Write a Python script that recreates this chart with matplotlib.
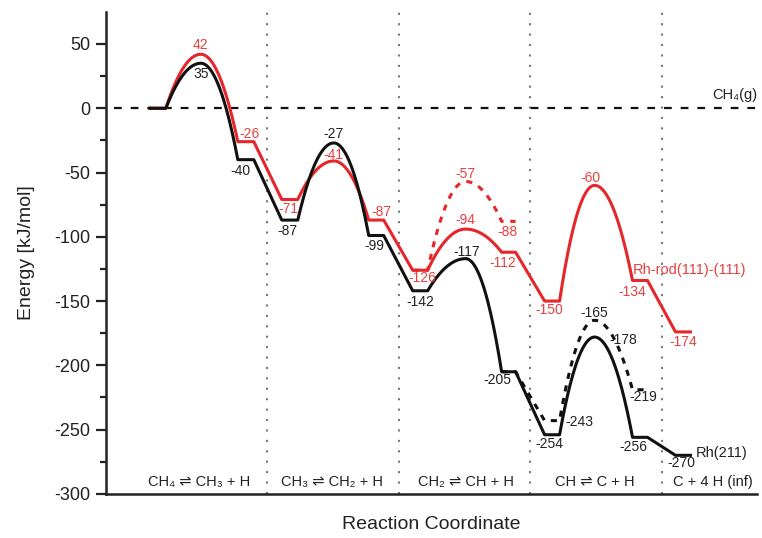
import numpy as np
import matplotlib.pyplot as plt

plt.rcParams['font.family'] = ['Liberation Sans', 'DejaVu Sans']
plt.rcParams['axes.unicode_minus'] = False

# positions along the reaction coordinate (arbitrary units)
plat_start = [149, 237, 281, 368, 412, 501, 544, 632, 675]
plat_end = [165, 253, 297, 383, 427, 515, 559, 647, 690]
ts_x = {0: 200, 2: 333, 4: 465, 6: 594}   # barrier after plateau i
dividers = [266, 398, 529, 661]

# energies in kJ/mol
rh211_levels = [0, -40, -87, -99, -142, -205, -254, -256, -270]
rh211_ts = {0: 35, 2: -27, 4: -117, 6: -178}
rod_levels = [0, -26, -71, -87, -126, -112, -150, -134, -174]
rod_ts = {0: 42, 2: -41, 4: -94, 6: -60}

# alternative (dashed) paths
rod_alt_levels = [-126, -88]
rod_alt_ts = {4: -57}
rh211_alt_levels = [-205, -243, -219]
rh211_alt_ts = {6: -165}

steps = ['CH₄ ⇌ CH₃ + H', 'CH₃ ⇌ CH₂ + H', 'CH₂ ⇌ CH + H',
         'CH ⇌ C + H', 'C + 4 H (inf)']
step_x = [198, 331, 465, 594, 712]

RED = '#e5262b'
RED_TXT = '#e8403f'
BLK = '#111111'


def profile(levels, ts, first=0):
    xs, ys = [], []
    for i, e in enumerate(levels):
        k = first + i
        xs += [plat_start[k], plat_end[k]]
        ys += [e, e]
        if i < len(levels) - 1 and k in ts:
            x0, x1, xp = plat_end[k], plat_start[k + 1], ts_x[k]
            ep, e1 = ts[k], levels[i + 1]
            t = np.linspace(0, 1, 40)
            xs += list(x0 + (xp - x0) * t)
            ys += list(ep - (ep - e) * (1 - t) ** 2)
            xs += list(xp + (x1 - xp) * t)
            ys += list(ep - (ep - e1) * t ** 2)
    return xs, ys


fig = plt.figure(figsize=(7.62, 5.38), dpi=100)
ax = fig.add_axes([0.139, 0.082, 0.855, 0.896])

for xd in dividers:
    ax.axvline(xd, color='#777777', ls=(0, (1, 4)), lw=1.5, zorder=1)
ax.axhline(0, color=BLK, ls=(0, (3.5, 4)), lw=1.6, zorder=1, xmin=0.012)

x, y = profile(rod_alt_levels, rod_alt_ts, first=4)
ax.plot(x, y, color=RED, lw=2.2, ls=(0, (2, 2.2)), zorder=2)
x, y = profile(rh211_alt_levels, rh211_alt_ts, first=5)
ax.plot(x, y, color=BLK, lw=2.2, ls=(0, (2, 2.2)), zorder=2)
x, y = profile(rod_levels, rod_ts)
ax.plot(x, y, color=RED, lw=2.2, zorder=3)
x, y = profile(rh211_levels, rh211_ts)
ax.plot(x, y, color=BLK, lw=2.2, zorder=3)

# value labels: (x, energy, dx, dy) offsets in pixels
def mid(k):
    return (plat_start[k] + plat_end[k]) / 2

black_labels = [
    (ts_x[0], 35, 0, -11), (mid(1), -40, -5, -11), (mid(2), -87, -2, -11),
    (ts_x[2], -27, 0, 9), (mid(3), -99, -2, -10), (mid(4), -142, 0, -11),
    (ts_x[4], -117, 1, 7), (mid(5), -205, -11, -8), (mid(6), -254, -3, -9),
    (ts_x[6], -178, 29, -3), (mid(7), -256, -7, -10), (mid(8), -270, -2, -8),
    (mid(6), -243, 27, -1), (ts_x[6], -165, 0, 7), (mid(7), -219, 3, -7),
]
red_labels = [
    (ts_x[0], 42, 0, 9), (mid(1), -26, 4, 8), (mid(2), -71, -1, -9),
    (ts_x[2], -41, 0, 6), (mid(3), -87, 5, 8), (mid(4), -126, 2, -8),
    (ts_x[4], -94, 0, 9), (ts_x[4], -57, 0, 8), (mid(5), -88, -1, -11),
    (mid(5), -112, -6, -11), (mid(6), -150, -3, -9), (ts_x[6], -60, -4, 7),
    (mid(7), -134, -8, -12), (mid(8), -174, 0, -10),
]
for lx, e, dx, dy in black_labels:
    ax.annotate(str(e), (lx, e), xytext=(dx, dy), textcoords='offset pixels',
                ha='center', va='center', fontsize=10, color='#222222')
for lx, e, dx, dy in red_labels:
    ax.annotate(str(e), (lx, e), xytext=(dx, dy), textcoords='offset pixels',
                ha='center', va='center', fontsize=10, color=RED_TXT)

ax.annotate('Rh(211)', (plat_end[8], rh211_levels[8]), xytext=(5, 2),
            textcoords='offset pixels', ha='left', va='center',
            fontsize=10.5, color='#222222')
ax.annotate('Rh-rod(111)-(111)', (plat_start[7], rod_levels[7]), xytext=(0, 10),
            textcoords='offset pixels', ha='left', va='center',
            fontsize=10.5, color=RED_TXT)
ax.text(757, 10, 'CH₄(g)', ha='right', va='center', fontsize=10.5,
        color='#222222')

for sx, s in zip(step_x, steps):
    ax.text(sx, -291, s, ha='center', va='center', fontsize=10.5,
            color='#222222')

ax.set_xlim(105, 757)
ax.set_ylim(-300, 75)
ax.set_yticks(np.arange(-300, 51, 50))
ax.set_yticks(np.arange(-300, 75, 25), minor=True)
ax.set_xticks([])
ax.spines['top'].set_visible(False)
ax.spines['right'].set_visible(False)
for s in ['left', 'bottom']:
    ax.spines[s].set_linewidth(1.8)
    ax.spines[s].set_color('#222222')
ax.tick_params(axis='y', which='major', length=7, width=1.6,
               labelsize=13, colors='#222222', pad=4)
ax.tick_params(axis='y', which='minor', length=4, width=1.6, colors='#222222')
ax.set_ylabel('Energy [kJ/mol]', fontsize=14, color='#222222', labelpad=14)
ax.set_xlabel('Reaction Coordinate', fontsize=14, color='#222222', labelpad=16)

fig.savefig('out.png', dpi=100)
